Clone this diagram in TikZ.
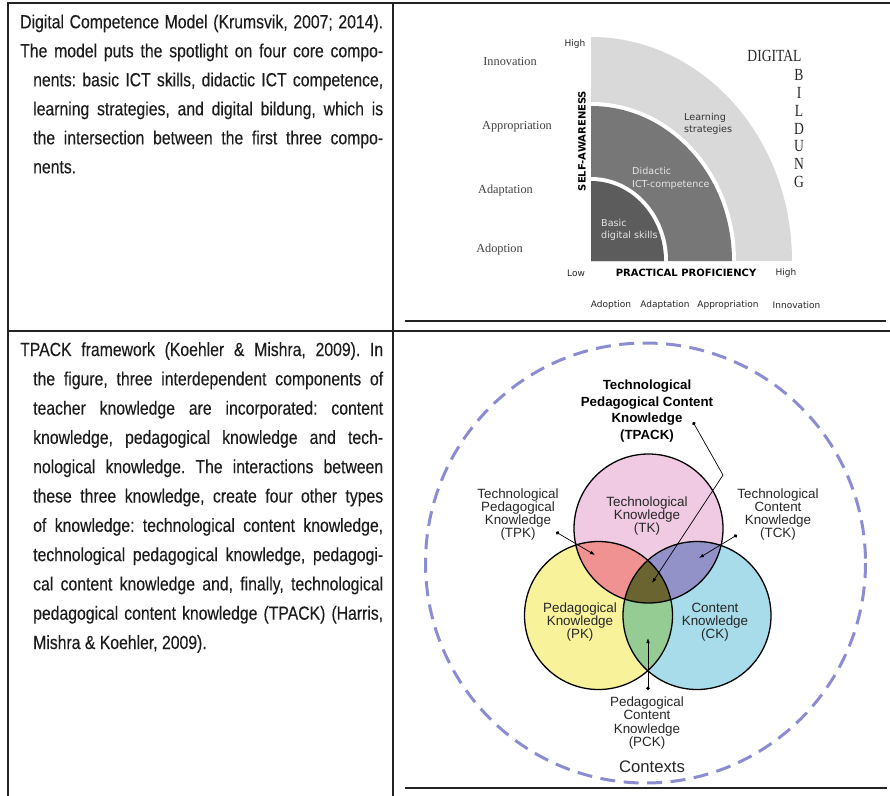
\documentclass[tikz,border=0pt]{standalone}
\usepackage{fontspec}
\setmainfont{Liberation Sans}
\newfontfamily\cellfont[FakeStretch=0.83, FakeBold=0.2]{Liberation Sans}
\newfontfamily\figfont{DejaVu Sans}
\newfontfamily\levelfont{Liberation Serif}
\newfontfamily\bildfont[FakeStretch=0.8]{Liberation Serif}
\usetikzlibrary{arrows.meta}
\frenchspacing

\definecolor{rulegray}{HTML}{232323}
\definecolor{celltext}{HTML}{1C1C1C}
\definecolor{bandlight}{HTML}{D9D9D9}
\definecolor{bandmid}{HTML}{777777}
\definecolor{banddark}{HTML}{5C5C5C}
\definecolor{ctxblue}{HTML}{8C8CD2}
\definecolor{tkpink}{HTML}{F0CAE2}
\definecolor{pkyellow}{HTML}{F8F29A}
\definecolor{ckcyan}{HTML}{A8DCEA}
\definecolor{tpkred}{HTML}{F09292}
\definecolor{tckviolet}{HTML}{9292C8}
\definecolor{pckgreen}{HTML}{94CC94}
\definecolor{tpackolive}{HTML}{6A6430}

\begin{document}
\begin{tikzpicture}[x=1pt, y=-1pt,
  rule/.style={line width=2.4pt, draw=rulegray, line cap=rect},
  thin rule/.style={line width=1.6pt, draw=rulegray},
  cell text/.style={inner sep=0pt, align=left, text=celltext},
  level/.style={inner sep=0pt, text=black!75, font=\levelfont\fontsize{12.3}{14}\selectfont},
  axis/.style={inner sep=0pt, text=black!85, font=\figfont\fontsize{9}{11}\selectfont},
  axis title/.style={inner sep=0pt, text=black, font=\figfont\bfseries\fontsize{10}{12}\selectfont},
  band label/.style={inner sep=0pt, align=left, font=\figfont\fontsize{9.6}{12.5}\selectfont},
  bild/.style={inner sep=0pt, text=black!85, font=\bildfont\fontsize{17}{17}\selectfont},
  venn label/.style={inner sep=0pt, align=center, text=black!85, font=\fontsize{13.4}{13.3}\selectfont},
  leader/.style={line width=0.7pt, {Circle[length=3.5pt]}-{Latex[length=5pt, width=3.6pt]}}]
  \useasboundingbox (0,0) rectangle (890,795);
  % Table
  \draw[rule] (8,3) -- (890,3);
  \draw[rule] (8,331) -- (890,331);
  \draw[rule] (8,3) -- (8,795);
  \draw[rule] (393,3) -- (393,795);
  \draw[thin rule] (405,321) -- (886,321);
  \draw[thin rule] (405,788) -- (887,788);
  % Descriptions
  \node (dcm-text) [cell text, anchor=base west, font=\cellfont\fontsize{19}{29}\selectfont] at (20,173.3) {%
    \makebox[363pt][s]{Digital Competence Model (Krumsvik, 2007; 2014).}\\
    \makebox[363pt][s]{The model puts the spotlight on four core compo-}\\
    \hspace*{13pt}\makebox[350pt][s]{nents: basic ICT skills, didactic ICT competence,}\\
    \hspace*{13pt}\makebox[350pt][s]{learning strategies, and digital bildung, which is}\\
    \hspace*{13pt}\makebox[350pt][s]{the intersection between the first three compo-}\\
    \hspace*{13pt}nents.};
  \node (tpack-text) [cell text, anchor=base west, font=\cellfont\fontsize{19}{29.3}\selectfont] at (20,649) {%
    \makebox[363pt][s]{TPACK framework (Koehler \& Mishra, 2009). In}\\
    \hspace*{13pt}\makebox[350pt][s]{the figure, three interdependent components of}\\
    \hspace*{13pt}\makebox[350pt][s]{teacher knowledge are incorporated: content}\\
    \hspace*{13pt}\makebox[350pt][s]{knowledge, pedagogical knowledge and tech-}\\
    \hspace*{13pt}\makebox[350pt][s]{nological knowledge. The interactions between}\\
    \hspace*{13pt}\makebox[350pt][s]{these three knowledge, create four other types}\\
    \hspace*{13pt}\makebox[350pt][s]{of knowledge: technological content knowledge,}\\
    \hspace*{13pt}\makebox[350pt][s]{technological pedagogical knowledge, pedagogi-}\\
    \hspace*{13pt}\makebox[350pt][s]{cal content knowledge and, finally, technological}\\
    \hspace*{13pt}\makebox[350pt][s]{pedagogical content knowledge (TPACK) (Harris,}\\
    \hspace*{13pt}Mishra \& Koehler, 2009).};
  % Digital competence model
  \coordinate (origin) at (591,261);
  \fill[bandlight] (origin) -- ++(201,0) arc[start angle=0, end angle=-90, x radius=201, y radius=224] -- cycle;
  \fill[white] (origin) -- ++(145,0) arc[start angle=0, end angle=-90, x radius=145, y radius=159] -- cycle;
  \fill[bandmid] (origin) -- ++(141,0) arc[start angle=0, end angle=-90, x radius=141, y radius=155] -- cycle;
  \fill[white] (origin) -- ++(77,0) arc[start angle=0, end angle=-90, x radius=77, y radius=84] -- cycle;
  \fill[banddark] (origin) -- ++(73,0) arc[start angle=0, end angle=-90, x radius=73, y radius=80] -- cycle;
  \node (learning) [band label, anchor=west, text=black!80] at (684,124) {Learning\\strategies};
  \node (didactic) [band label, anchor=west, text=white!90!black] at (632,178.5) {Didactic\\ICT-competence};
  \node (basic) [band label, anchor=west, text=white!90!black] at (601,230) {Basic\\digital skills};
  \node (self-aware) [axis title, rotate=90] at (582,141) {SELF-AWARENESS};
  \node (proficiency) [axis title] at (686,273) {PRACTICAL PROFICIENCY};
  \node (high-y) [axis] at (575,44) {High};
  \node (low) [axis] at (576,273) {Low};
  \node (high-x) [axis] at (786,273) {High};
  \node (lvl-innovation) [level] at (510,61) {Innovation};
  \node (lvl-appropriation) [level] at (517,127) {Appropriation};
  \node (lvl-adaptation) [level] at (505.5,191) {Adaptation};
  \node (lvl-adoption) [level] at (499.5,250) {Adoption};
  \node (stage-adoption) [axis] at (611,305) {Adoption};
  \node (stage-adaptation) [axis] at (665,305) {Adaptation};
  \node (stage-appropriation) [axis] at (728,305) {Appropriation};
  \node (stage-innovation) [axis] at (796.5,305) {Innovation};
  \node (digital) [bild] at (774.5,56) {DIGITAL};
  \node (bild-b) [bild] at (799,75) {B};
  \node (bild-i) [bild] at (799,93) {I};
  \node (bild-l) [bild] at (799,111) {L};
  \node (bild-d) [bild] at (799,129) {D};
  \node (bild-u) [bild] at (799,146.5) {U};
  \node (bild-n) [bild] at (799,164) {N};
  \node (bild-g) [bild] at (799,182) {G};
  % TPACK
  \coordinate (ctx) at (645.5,563);
  \coordinate (tk) at (648.5,528.5);
  \coordinate (pk) at (598.5,615.5);
  \coordinate (ck) at (697,615.5);
  \draw[ctxblue, line width=3pt, dash pattern=on 15pt off 8.5pt] (ctx) circle[radius=220];
  \fill[tkpink] (tk) circle[radius=74.5];
  \fill[pkyellow] (pk) circle[radius=74];
  \fill[ckcyan] (ck) circle[radius=74];
  \begin{scope}
    \clip (tk) circle[radius=74.5];
    \fill[tpkred] (pk) circle[radius=74];
    \fill[tckviolet] (ck) circle[radius=74];
  \end{scope}
  \begin{scope}
    \clip (pk) circle[radius=74];
    \fill[pckgreen] (ck) circle[radius=74];
    \clip (ck) circle[radius=74];
    \fill[tpackolive] (tk) circle[radius=74.5];
  \end{scope}
  \draw[line width=1.3pt] (tk) circle[radius=74.5];
  \draw[line width=1.3pt] (pk) circle[radius=74];
  \draw[line width=1.3pt] (ck) circle[radius=74];
  % Labels
  \node (tpack) [venn label, font=\bfseries\fontsize{13.3}{16.7}\selectfont, text=black] at (647,411) {Technological\\Pedagogical Content\\Knowledge\\(TPACK)};
  \node (tk-label) [venn label] at (647,516) {Technological\\Knowledge\\(TK)};
  \node (tpk-label) [venn label] at (518,514.5) {Technological\\Pedagogical\\Knowledge\\(TPK)};
  \node (tck-label) [venn label] at (778,514.5) {Technological\\Content\\Knowledge\\(TCK)};
  \node (pk-label) [venn label] at (580,622) {Pedagogical\\Knowledge\\(PK)};
  \node (ck-label) [venn label] at (715,622) {Content\\Knowledge\\(CK)};
  \node (pck-label) [venn label] at (647,723) {Pedagogical\\Content\\Knowledge\\(PCK)};
  \node (contexts) [venn label, font=\fontsize{16.7}{18}\selectfont] at (652,767) {Contexts};
  % Arrows
  \coordinate (tpack-dot) at (693,422);
  \coordinate (tpack-bend) at (723,475);
  \coordinate (tpack-tip) at (652,583);
  \coordinate (tpk-dot) at (556,532);
  \coordinate (tpk-tip) at (595,555);
  \coordinate (tck-dot) at (737,535);
  \coordinate (tck-tip) at (699,558);
  \coordinate (pck-dot) at (648,690);
  \coordinate (pck-tip) at (648,638);
  \draw[leader] (tpack-dot) -- (tpack-bend) -- (tpack-tip);
  \draw[leader] (tpk-dot) -- (tpk-tip);
  \draw[leader] (tck-dot) -- (tck-tip);
  \draw[leader] (pck-dot) -- (pck-tip);
\end{tikzpicture}
\end{document}
